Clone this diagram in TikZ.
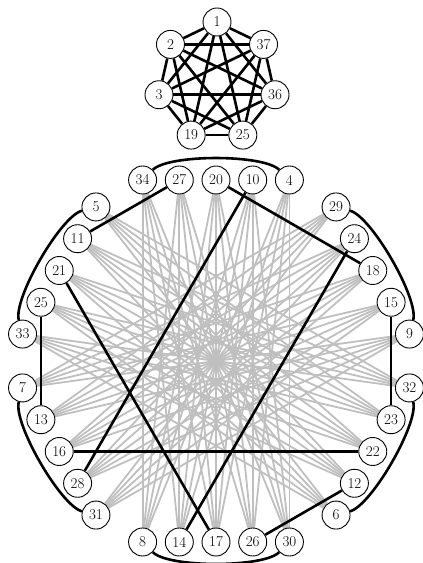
\documentclass[tikz,border=0pt]{standalone}
\usetikzlibrary{backgrounds}
\begin{document}
\begin{tikzpicture}[x=1pt,y=1pt,
  vert/.style={circle,draw,line width=0.9pt,fill=white,minimum size=28pt,inner sep=0pt,font=\fontsize{15}{18}\selectfont},
  grayedge/.style={line width=1.8pt,gray!50},
  blackedge/.style={line width=2.6pt,black},
  arcedge/.style={blackedge,bend left=45,looseness=0.45}]
\useasboundingbox (0,0) rectangle (423,563);
% K7
\foreach \lab/\ang in {1/90, 37/38.571, 36/-12.857, 25/-64.286, 19/-115.714, 3/-167.143, 2/141.429}
  \path (217,481.5) ++(\ang:59.5) node[vert] (k\lab) {\lab};
% hexagonal arrangement
\foreach \k/\names in {0/{34,27,20,10,4}, 1/{29,24,18,15,9}, 2/{32,23,22,12,6}, 3/{30,26,17,14,8}, 4/{31,28,16,13,7}, 5/{33,25,21,11,5}}
  \foreach \n [count=\j from 0] in \names
    \path (216,202) ++({90-60*\k}:181) ++({-60*\k}:{(\j-2)*36.7}) node[vert] (h\n) {\n};
\begin{pgfonlayer}{background}
  \foreach \as/\bs in {{34,27,20,10,4}/{30,26,17,14,8}, {29,24,18,15,9}/{31,28,16,13,7}, {32,23,22,12,6}/{33,25,21,11,5}}
    \foreach \a in \as
      \foreach \b in \bs
        \draw[grayedge] (h\a) -- (h\b);
  \foreach \a/\b in {27/11, 20/18, 10/28, 24/14, 21/17, 25/13, 15/23, 16/22, 12/26}
    \draw[blackedge] (h\a) -- (h\b);
  \foreach \a/\b in {34/4, 29/9, 32/6, 30/8, 31/7, 33/5}
    \draw[arcedge] (h\a) to (h\b);
  \foreach \a/\bs in {1/{37,36,25,19,3,2}, 37/{36,25,19,3,2}, 36/{25,19,3,2}, 25/{19,3,2}, 19/{3,2}, 3/{2}}
    \foreach \b in \bs
      \draw[blackedge] (k\a) -- (k\b);
\end{pgfonlayer}
\end{tikzpicture}
\end{document}
